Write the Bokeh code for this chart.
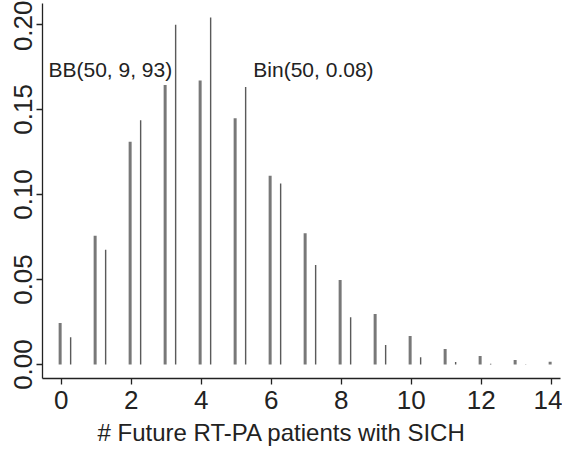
from bokeh.plotting import figure
from bokeh.models import Range1d, Label, FixedTicker, Title
from bokeh.embed import file_html
from bokeh.resources import INLINE

# Data
k_values = list(range(15))
bb_prob = [0.0245, 0.0758, 0.131, 0.1644, 0.167, 0.1449, 0.111, 0.0772,
           0.0497, 0.0297, 0.0168, 0.0092, 0.0051, 0.0027, 0.0016]
bin_prob = [0.016, 0.0675, 0.1437, 0.1998, 0.2041, 0.1632, 0.1065, 0.0585,
            0.0278, 0.0115, 0.0043, 0.0015, 0.0005, 0.0002, 0.0001]
x_ticks = [0, 2, 4, 6, 8, 10, 12, 14]
y_ticks = [0.0, 0.05, 0.10, 0.15, 0.20]
bb_label = "BB(50, 9, 93)"
bin_label = "Bin(50, 0.08)"
x_title = "# Future RT-PA patients with SICH"

FONT = "Liberation Sans"
TXT = "#222222"

p = figure(width=562, height=450, output_backend="svg", toolbar_location=None,
           x_range=Range1d(-0.534, 14.266), y_range=Range1d(-0.0082, 0.2123),
           min_border_left=42, min_border_right=2, min_border_top=3,
           min_border_bottom=71)
p.outline_line_color = None
p.xgrid.visible = False
p.ygrid.visible = False
p.background_fill_color = "white"
p.border_fill_color = "white"

bb_x = [k - 0.03 for k in k_values]
bin_x = [k + 0.27 for k in k_values]
p.segment(x0=bb_x, y0=[0] * len(bb_x), x1=bb_x, y1=bb_prob,
          line_color="#787878", line_width=3)
p.segment(x0=bin_x, y0=[0] * len(bin_x), x1=bin_x, y1=bin_prob,
          line_color="#5a5a5a", line_width=1.4)

xa = p.xaxis[0]
ya = p.yaxis[0]
for ax in (xa, ya):
    ax.axis_line_color = "#222222"
    ax.axis_line_width = 1.3
    ax.major_tick_line_color = "#222222"
    ax.major_tick_line_width = 1.3
    ax.major_tick_out = 6
    ax.major_tick_in = 0
    ax.minor_tick_line_color = None
    ax.major_label_text_color = TXT

xa.major_label_text_font = FONT
ya.major_label_text_font = FONT
xa.major_label_text_font_size = "26px"
ya.major_label_text_font_size = "26px"

xa.ticker = FixedTicker(ticks=x_ticks)
ya.ticker = FixedTicker(ticks=y_ticks)
ya.major_label_overrides = {0.0: "0.00", 0.05: "0.05", 0.10: "0.10",
                            0.15: "0.15", 0.20: "0.20"}
ya.major_label_orientation = "vertical"
ya.major_label_standoff = 4
xa.major_label_standoff = 6

p.add_layout(Label(x=-0.363, y=0.1736, text=bb_label, text_font=FONT,
                   text_font_size="21px", text_color=TXT,
                   text_baseline="middle", text_align="left"))
p.add_layout(Label(x=5.49, y=0.1736, text=bin_label, text_font=FONT,
                   text_font_size="21px", text_color=TXT,
                   text_baseline="middle", text_align="left"))
p.add_layout(Title(text=x_title, text_font=FONT, text_font_size="24px",
                   text_color=TXT, text_font_style="normal", align="left",
                   offset=55, standoff=10), "below")

open("out.html", "w").write(file_html(p, INLINE))
